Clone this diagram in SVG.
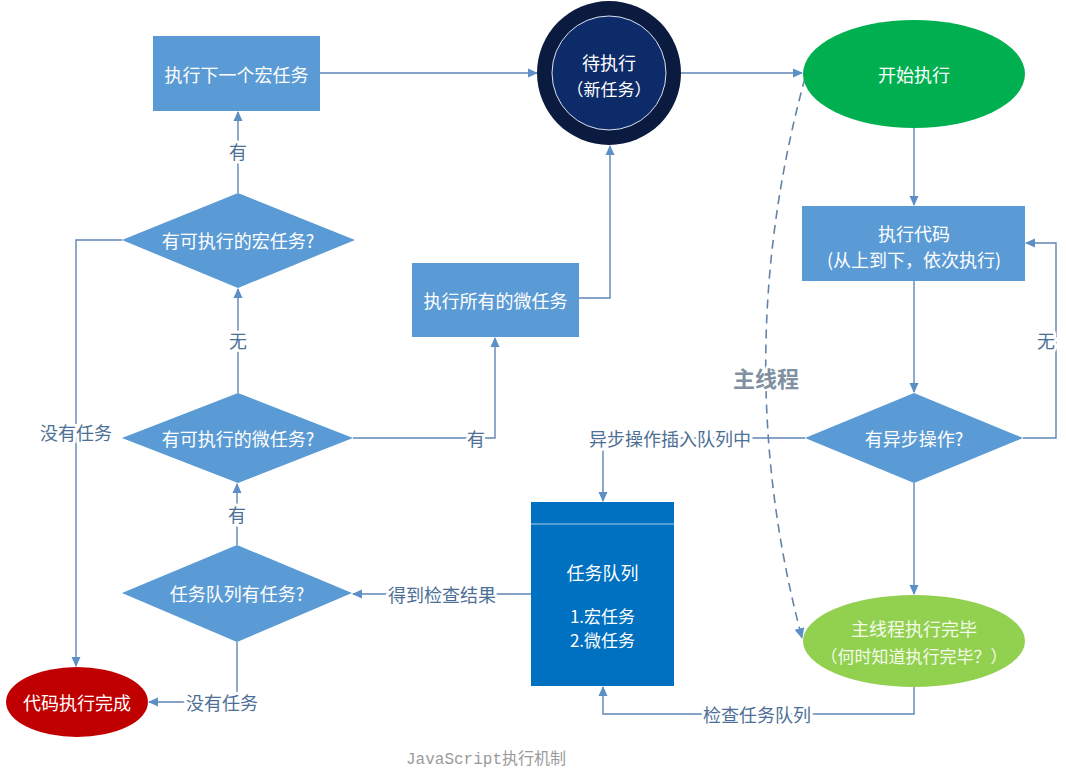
<svg xmlns="http://www.w3.org/2000/svg" width="1066" height="778" viewBox="0 0 1066 778">
  <style>
    .t { font-family: "Noto Sans CJK SC", "Microsoft YaHei", sans-serif; font-size: 18px; fill: #ffffff; text-anchor: middle; dominant-baseline: central; }
    .lbl { font-family: "Noto Sans CJK SC", "Microsoft YaHei", sans-serif; font-size: 18px; fill: #4d6f96; text-anchor: middle; dominant-baseline: central; stroke: #ffffff; stroke-width: 6px; paint-order: stroke; stroke-linejoin: round; }
    .box { fill: #5b9bd5; }
    .dia { fill: #5b9bd5; }
    .ln { fill: none; stroke: #5f86b3; stroke-width: 1.4; marker-end: url(#arr); }
    .dash { fill: none; stroke: #6383a8; stroke-width: 1.6; stroke-dasharray: 9 6; marker-end: url(#arr2); }
  </style>
  <defs>
    <marker id="arr" viewBox="0 0 10 10" refX="9" refY="5" markerWidth="10" markerHeight="10" markerUnits="userSpaceOnUse" orient="auto">
      <path d="M0,0.5 L10,5 L0,9.5 Z" fill="#5b8fc6"/>
    </marker>
    <marker id="arr2" viewBox="0 0 10 10" refX="9" refY="5" markerWidth="11" markerHeight="11" markerUnits="userSpaceOnUse" orient="auto">
      <path d="M0,0.5 L10,5 L0,9.5 Z" fill="#5b8fc6"/>
    </marker>
  </defs>
  <rect width="1066" height="778" fill="#ffffff"/>

  <!-- connectors -->
  <g id="connectors">
    <path class="ln" d="M320,73 H537"/>
    <path class="ln" d="M681,73 H802"/>
    <path class="ln" d="M914,128 V205"/>
    <path class="ln" d="M914,281 V392"/>
    <path class="ln" d="M1023,438 H1056 V243 H1026"/>
    <path class="ln" d="M914,483 V594"/>
    <path class="ln" d="M805,438 H603 V501"/>
    <path class="ln" d="M914,687 V714 H603 V687"/>
    <path class="ln" d="M531,594 H353"/>
    <path class="ln" d="M237,642 V702 H149"/>
    <path class="ln" d="M237,545 V484"/>
    <path class="ln" d="M353,438 H495 V338"/>
    <path class="ln" d="M579,298 H610 V146"/>
    <path class="ln" d="M238,393 V289"/>
    <path class="ln" d="M238,193 V112"/>
    <path class="ln" d="M122,240 H76 V666"/>
    <path class="dash" d="M805,78 Q728,360 802,638"/>

    <text class="lbl" x="1046" y="340">无</text>
    <text class="lbl" x="670" y="438">异步操作插入队列中</text>
    <text class="lbl" x="757" y="714">检查任务队列</text>
    <text class="lbl" x="442" y="594">得到检查结果</text>
    <text class="lbl" x="222" y="702">没有任务</text>
    <text class="lbl" x="237" y="514">有</text>
    <text class="lbl" x="476" y="438">有</text>
    <text class="lbl" x="238" y="340">无</text>
    <text class="lbl" x="238" y="151">有</text>
    <text class="lbl" x="76" y="432">没有任务</text>
    <text x="766" y="377" style="font-family: 'Noto Sans CJK SC', sans-serif; font-size: 22px; font-weight: bold; fill: #8090a0; text-anchor: middle; dominant-baseline: central; stroke: #ffffff; stroke-width: 4px; paint-order: stroke;">主线程</text>
  </g>

  <!-- nodes -->
  <g id="next-macro">
    <rect class="box" x="153" y="36" width="167" height="75"/>
    <text class="t" x="236.5" y="74">执行下一个宏任务</text>
  </g>

  <g id="pending">
    <circle cx="609" cy="73" r="72" fill="#0b1a3f"/>
    <circle cx="609" cy="73" r="57" fill="#0e2b69" stroke="#d8e2f0" stroke-width="1"/>
    <text class="t" x="609" y="62">待执行</text>
    <text class="t" x="609" y="88" style="font-size:17px">（新任务）</text>
  </g>

  <g id="start">
    <ellipse cx="914" cy="74" rx="111" ry="54" fill="#00b050"/>
    <text class="t" x="914" y="74">开始执行</text>
  </g>

  <g id="run-code">
    <rect class="box" x="802" y="206" width="223" height="75"/>
    <text class="t" x="914" y="233">执行代码</text>
    <text class="t" x="914" y="259">(从上到下，依次执行)</text>
  </g>

  <g id="has-async">
    <polygon class="dia" points="914,393 1023,438 914,483 805,438"/>
    <text class="t" x="914" y="438">有异步操作?</text>
  </g>

  <g id="main-done">
    <ellipse cx="914" cy="641" rx="111" ry="46" fill="#92d050"/>
    <text class="t" x="914" y="628" style="fill:#f4fbe8">主线程执行完毕</text>
    <text class="t" x="914" y="655" style="fill:#f4fbe8; font-size:17px">（何时知道执行完毕？）</text>
  </g>

  <g id="task-queue">
    <rect x="531" y="502" width="143" height="184" fill="#0070c0"/>
    <line x1="531" y1="524" x2="674" y2="524" stroke="#a9cdee" stroke-width="1.2"/>
    <text class="t" x="602.5" y="572">任务队列</text>
    <text class="t" x="602.5" y="615" style="font-size:17px">1.宏任务</text>
    <text class="t" x="602.5" y="639" style="font-size:17px">2.微任务</text>
  </g>

  <g id="all-done">
    <ellipse cx="77" cy="702" rx="71" ry="35" fill="#c00000"/>
    <text class="t" x="77" y="702">代码执行完成</text>
  </g>

  <g id="has-macro">
    <polygon class="dia" points="238,193 355,240 238,288 122,240"/>
    <text class="t" x="238" y="240">有可执行的宏任务?</text>
  </g>

  <g id="has-micro">
    <polygon class="dia" points="238,393 353,438 238,483 122,438"/>
    <text class="t" x="238" y="438">有可执行的微任务?</text>
  </g>

  <g id="queue-has-task">
    <polygon class="dia" points="237,545 352,593 237,642 122,593"/>
    <text class="t" x="237" y="593">任务队列有任务?</text>
  </g>

  <g id="run-micro">
    <rect class="box" x="412" y="263" width="167" height="74"/>
    <text class="t" x="495.5" y="300">执行所有的微任务</text>
  </g>

  <text x="486" y="760" style="font-family: 'Liberation Mono', 'Noto Sans CJK SC', monospace; font-size: 16px; fill: #9a9a9a; text-anchor: middle; dominant-baseline: central;">JavaScript执行机制</text>
</svg>
